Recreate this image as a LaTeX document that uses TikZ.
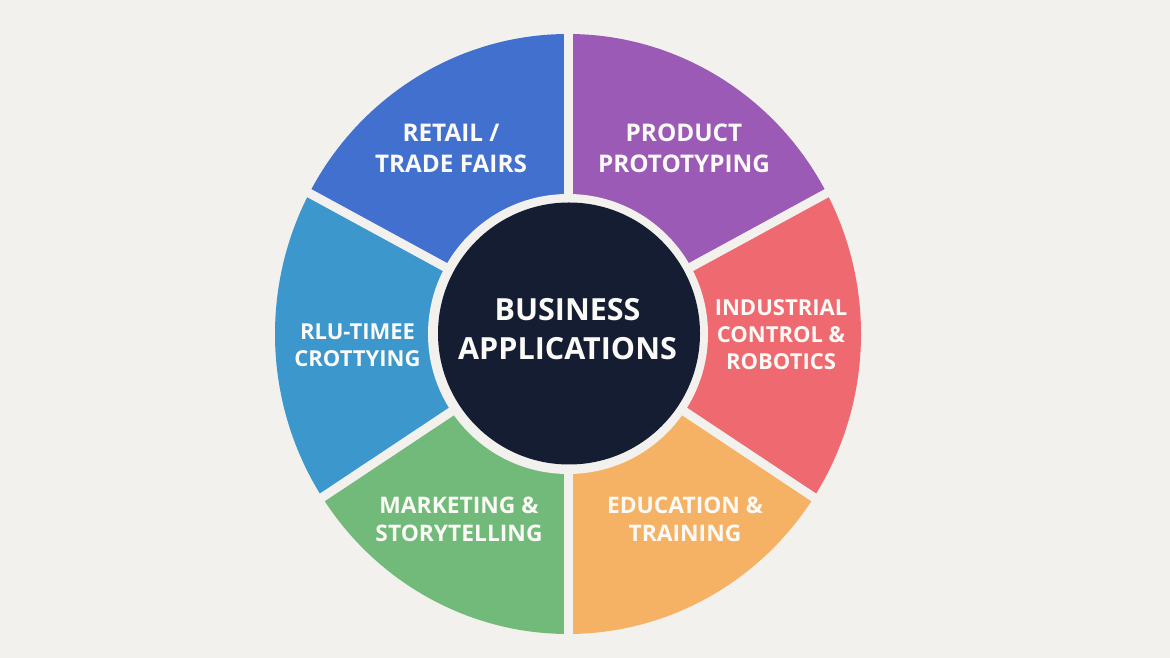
\documentclass[tikz,border=0pt]{standalone}
\usepackage{fontspec}
\setmainfont{Open Sans}
\definecolor{bgc}{HTML}{F2F1ED}
\definecolor{retailc}{HTML}{4170CF}
\definecolor{prodc}{HTML}{9A5AB5}
\definecolor{indc}{HTML}{EE6A70}
\definecolor{educ}{HTML}{F6B264}
\definecolor{mktc}{HTML}{71BA79}
\definecolor{rluc}{HTML}{3B97CC}
\definecolor{hubc}{HTML}{141D32}
\definecolor{txtc}{HTML}{FBFAF6}
\begin{document}
\begin{tikzpicture}[x=1pt,y=1pt,
  segtext/.style={text=txtc,font=\bfseries\fontsize{22.8}{28}\selectfont,align=center,inner sep=0pt},
  smallseg/.style={segtext,font=\bfseries\fontsize{22}{27}\selectfont},
  bigseg/.style={segtext,font=\bfseries\fontsize{24.3}{30.5}\selectfont},
  hubtext/.style={text=txtc,font=\bfseries\fontsize{30.5}{39.5}\selectfont,align=center,inner sep=0pt},
  gapline/.style={draw=bgc,line width=9pt}]
\useasboundingbox (0,0) rectangle (1170,658);
\fill[bgc] (0,0) rectangle (1170,658);
\coordinate (C) at (568,324);
\begin{scope}[shift={(C)},xscale=0.9767]
  \fill[retailc] (0,0) -- (90:300) arc[start angle=90,end angle=152,radius=300] -- cycle;
  \fill[rluc] (0,0) -- (152:300) arc[start angle=152,end angle=213,radius=300] -- cycle;
  \fill[mktc] (0,0) -- (213:300) arc[start angle=213,end angle=270,radius=300] -- cycle;
  \fill[educ] (0,0) -- (270:300) arc[start angle=270,end angle=327,radius=300] -- cycle;
  \fill[indc] (0,0) -- (-33:300) arc[start angle=-33,end angle=28,radius=300] -- cycle;
  \fill[prodc] (0,0) -- (28:300) arc[start angle=28,end angle=90,radius=300] -- cycle;
  \foreach \a in {90,152,213,270,327,28}
    \draw[gapline] (0,0) -- (\a:320);
\end{scope}
\fill[bgc] (C) circle (140);
\node[circle,fill=hubc,minimum size=262pt,inner sep=0pt] (hub) at (569,324.5) {};
\node[hubtext] (hublabel) at (567.5,329) {BUSINESS\\APPLICATIONS};
\node[bigseg] (retail) at (451,509.7) {RETAIL /\\TRADE FAIRS};
\node[bigseg] (product) at (684,509.7) {PRODUCT\\PROTOTYPING};
\node[smallseg] (industrial) at (781,323) {INDUSTRIAL\\CONTROL \&\\ROBOTICS};
\node[smallseg] (rlu) at (357.5,312.3) {RLU-TIMEE\\CROTTYING};
\node[segtext] (marketing) at (459,138.8) {MARKETING \&\\STORYTELLING};
\node[segtext] (education) at (685,138.8) {EDUCATION \&\\TRAINING};
\end{tikzpicture}
\end{document}
